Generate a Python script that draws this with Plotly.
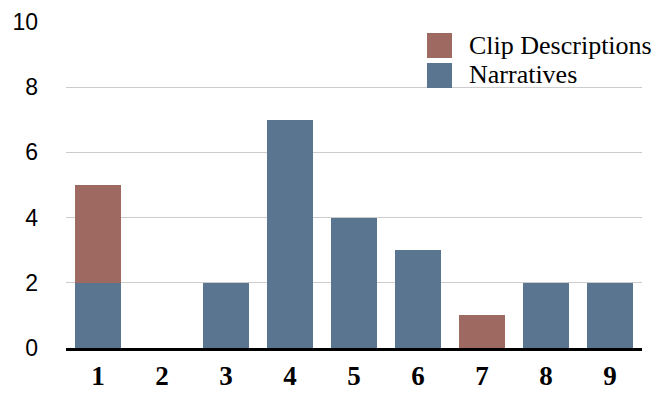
import plotly.graph_objects as go

# Counts per rating bucket
categories = ["1", "2", "3", "4", "5", "6", "7", "8", "9"]
narratives = [2, 0, 2, 7, 4, 3, 0, 2, 2]
clip_descriptions = [3, 0, 0, 0, 0, 0, 1, 0, 0]
y_ticks = [0, 2, 4, 6, 8, 10]

series_names = ["Clip Descriptions", "Narratives"]
clip_color = "#9d6961"
narr_color = "#5a7590"

fig = go.Figure()
fig.add_trace(go.Bar(x=categories, y=narratives, name="Narratives",
                     marker=dict(color=narr_color, line=dict(width=0)),
                     showlegend=False))
fig.add_trace(go.Bar(x=categories, y=clip_descriptions, name="Clip Descriptions",
                     marker=dict(color=clip_color, line=dict(width=0)),
                     showlegend=False))

# Legend drawn as swatches + labels
swatch_colors = [clip_color, narr_color]
for i, (name, col) in enumerate(zip(series_names, swatch_colors)):
    y_top = 33 + i * 30
    fig.add_shape(type="rect", xref="paper", yref="paper",
                  x0=(427 - 66) / 576, x1=(452 - 66) / 576,
                  y0=1 - (y_top - 22) / 326, y1=1 - (y_top + 25 - 22) / 326,
                  fillcolor=col, line=dict(width=0), layer="above")
    fig.add_annotation(xref="paper", yref="paper",
                       x=(467 - 66) / 576, y=1 - (y_top + 12 - 22) / 326,
                       text=name, showarrow=False, xanchor="left", yanchor="middle",
                       font=dict(family="Liberation Serif", size=26, color="#000000"))

fig.update_layout(
    barmode="stack",
    bargap=0.28,
    width=662, height=393,
    margin=dict(l=66, r=20, t=22, b=45, autoexpand=False),
    paper_bgcolor="white", plot_bgcolor="white",
    showlegend=False,
)
fig.update_xaxes(
    type="category", automargin=False,
    showgrid=False,
    showline=True, linecolor="black", linewidth=3,
    ticks="", ticklabelstandoff=2,
    tickfont=dict(family="Liberation Serif", size=27, color="black", weight="bold"),
)
fig.update_yaxes(
    range=[0, 10], tickvals=y_ticks, automargin=False,
    showgrid=True, gridcolor="#cccccc", gridwidth=1,
    zeroline=False, showline=False,
    ticks="", ticklabelstandoff=27,
    tickfont=dict(family="Liberation Sans", size=23, color="black"),
)

fig.write_html("out.html")
